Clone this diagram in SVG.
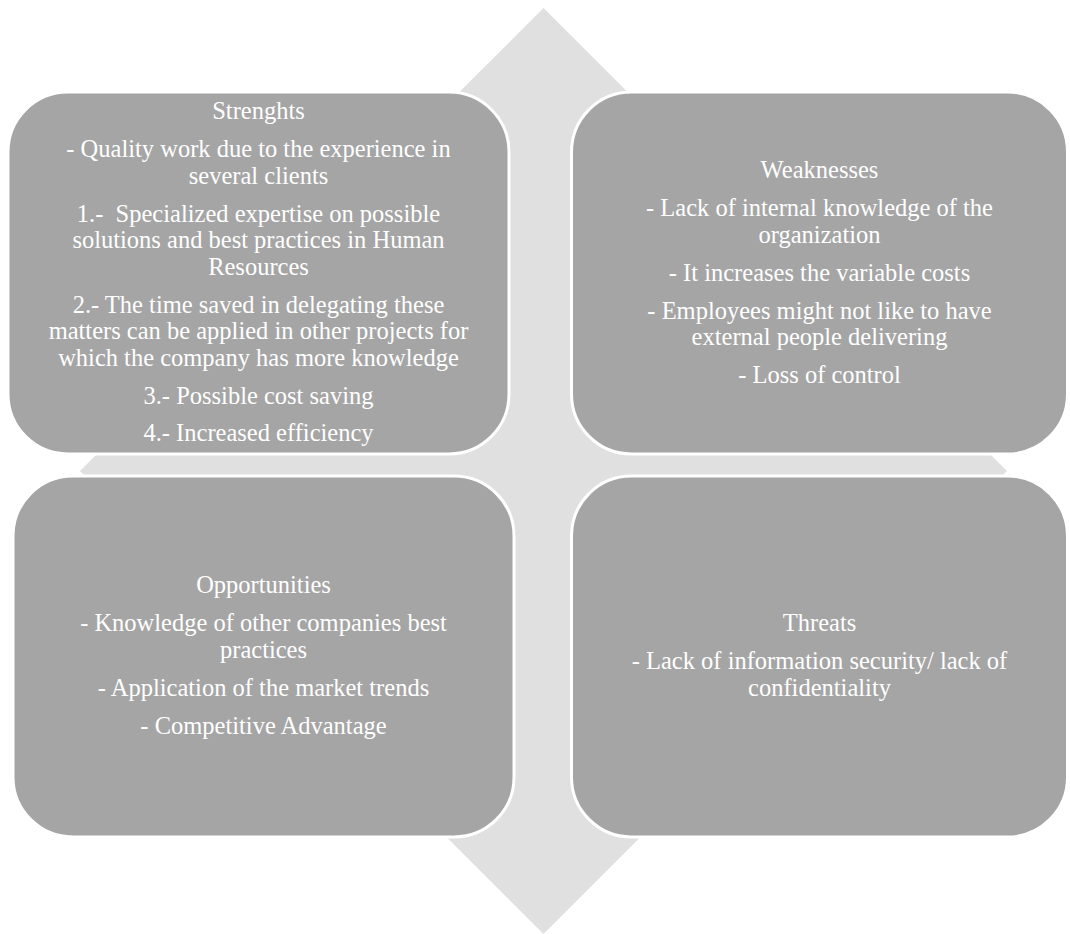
<svg xmlns="http://www.w3.org/2000/svg" width="1070" height="934" viewBox="0 0 1070 934">
<style>
.bg{fill:#e0e0e0}
.box{fill:#a5a5a5;stroke:#ffffff;stroke-width:3}
.t{font-family:"Liberation Serif","Times New Roman",serif;font-size:24.5px;fill:#ffffff;text-anchor:middle}
</style>
<rect width="1070" height="934" fill="#ffffff"/>
<g id="background">
<polygon class="bg" points="543.5,8 1007,471 543.5,934 80,471"/>
</g>
<g id="connectors"></g>
<g id="strengths">
<rect class="box" x="8" y="92" width="501" height="362" rx="60" ry="60"/>
<text class="t" x="258.5" y="119">Strenghts</text>
<text class="t" x="258.5" y="157">- Quality work due to the experience in</text>
<text class="t" x="258.5" y="183.5">several clients</text>
<text class="t" x="258.5" y="221.5">1.-&#160; Specialized expertise on possible</text>
<text class="t" x="258.5" y="248">solutions and best practices in Human</text>
<text class="t" x="258.5" y="274.5">Resources</text>
<text class="t" x="258.5" y="312.5">2.- The time saved in delegating these</text>
<text class="t" x="258.5" y="339">matters can be applied in other projects for</text>
<text class="t" x="258.5" y="365.5">which the company has more knowledge</text>
<text class="t" x="258.5" y="403.5">3.- Possible cost saving</text>
<text class="t" x="258.5" y="441">4.- Increased efficiency</text>
</g>
<g id="weaknesses">
<rect class="box" x="571.5" y="92" width="496" height="362" rx="60" ry="60"/>
<text class="t" x="819.5" y="178">Weaknesses</text>
<text class="t" x="819.5" y="216">- Lack of internal knowledge of the</text>
<text class="t" x="819.5" y="242.5">organization</text>
<text class="t" x="819.5" y="280.5">- It increases the variable costs</text>
<text class="t" x="819.5" y="318.5">- Employees might not like to have</text>
<text class="t" x="819.5" y="345">external people delivering</text>
<text class="t" x="819.5" y="383">- Loss of control</text>
</g>
<g id="opportunities">
<rect class="box" x="13" y="476" width="501" height="361" rx="60" ry="60"/>
<text class="t" x="263.5" y="593">Opportunities</text>
<text class="t" x="263.5" y="631">- Knowledge of other companies best</text>
<text class="t" x="263.5" y="657.5">practices</text>
<text class="t" x="263.5" y="695.5">- Application of the market trends</text>
<text class="t" x="263.5" y="733.5">- Competitive Advantage</text>
</g>
<g id="threats">
<rect class="box" x="571.5" y="476" width="496" height="361" rx="60" ry="60"/>
<text class="t" x="819.5" y="631">Threats</text>
<text class="t" x="819.5" y="669">- Lack of information security/ lack of</text>
<text class="t" x="819.5" y="695.5">confidentiality</text>
</g>
</svg>
